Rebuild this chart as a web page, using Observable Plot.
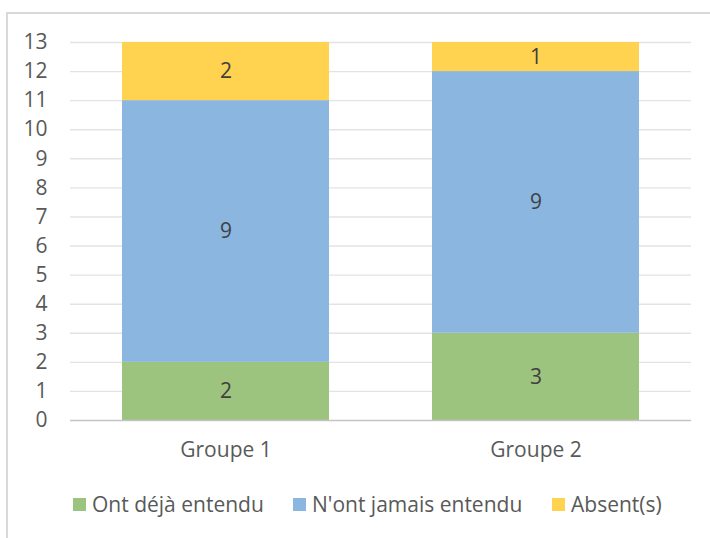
<!DOCTYPE html>
<html><head><meta charset="utf-8">
<script src="https://cdn.jsdelivr.net/npm/d3@7"></script>
<script src="https://cdn.jsdelivr.net/npm/@observablehq/plot@0.6"></script>
<style>
body{margin:0;background:#fff;}
#wrap{position:relative;width:710px;height:538px;overflow:hidden;font-family:"Open Sans",sans-serif;}
.bl{position:absolute;left:6px;top:12px;width:1.5px;height:526px;background:#d9d9d9;}
.bt{position:absolute;left:6px;top:12px;width:704px;height:1.5px;background:#d9d9d9;}
#chart{position:absolute;left:0;top:0;}
.lg{position:absolute;top:491px;height:26px;display:flex;align-items:center;font-size:21px;color:#595959;white-space:nowrap;}
.sw{width:13px;height:13px;margin-right:6px;}
</style></head>
<body><div id="wrap"><div class="bl"></div><div class="bt"></div><div id="chart"></div></div>
<script>
const groups = ["Groupe 1", "Groupe 2"];
const series = ["Ont déjà entendu", "N'ont jamais entendu", "Absent(s)"];
const ontDeja = [2, 3];
const ontJamais = [9, 9];
const absents = [2, 1];
const colors = ["#9dc47f", "#8bb6e0", "#ffd24f"];
const yTicks = [0,1,2,3,4,5,6,7,8,9,10,11,12,13];
const legendLeft = [73, 293, 552];

const vals = [ontDeja, ontJamais, absents];
const data = [];
groups.forEach((g, i) => series.forEach((s, j) => data.push({group: g, series: s, value: vals[j][i]})));

const plot = Plot.plot({
  width: 710, height: 470,
  marginLeft: 70, marginRight: 19, marginTop: 42, marginBottom: 50,
  style: {fontFamily: "'Open Sans', sans-serif", fontSize: "21px", color: "#595959", background: "transparent"},
  x: {domain: groups, paddingInner: 0.333, paddingOuter: 0.1665, label: null},
  y: {domain: [0, 13], label: null},
  color: {domain: series, range: colors},
  marks: [
    Plot.ruleY(yTicks.filter(d => d > 0), {stroke: "#e3e3e3", strokeWidth: 1.4}),
    Plot.barY(data, Plot.stackY({x: "group", y: "value", z: "series", fill: "series", order: series})),
    Plot.ruleY([0], {stroke: "#c4c4c4", strokeWidth: 1.6}),
    Plot.text(data, Plot.stackY({x: "group", y: "value", z: "series", text: "value", order: series, fill: "#404040", fontSize: 21})),
    Plot.axisY({ticks: yTicks, tickSize: 0, tickPadding: 23, fontSize: 21, tickFormat: d => String(d)}),
    Plot.axisX({tickSize: 0, tickPadding: 22, fontSize: 21})
  ]
});
document.getElementById("chart").appendChild(plot);

const wrap = document.getElementById("wrap");
series.forEach((s, j) => {
  const d = document.createElement("div");
  d.className = "lg";
  d.style.left = legendLeft[j] + "px";
  d.innerHTML = `<span class="sw" style="background:${colors[j]}"></span><span></span>`;
  d.lastChild.textContent = s;
  wrap.appendChild(d);
});
</script></body></html>
